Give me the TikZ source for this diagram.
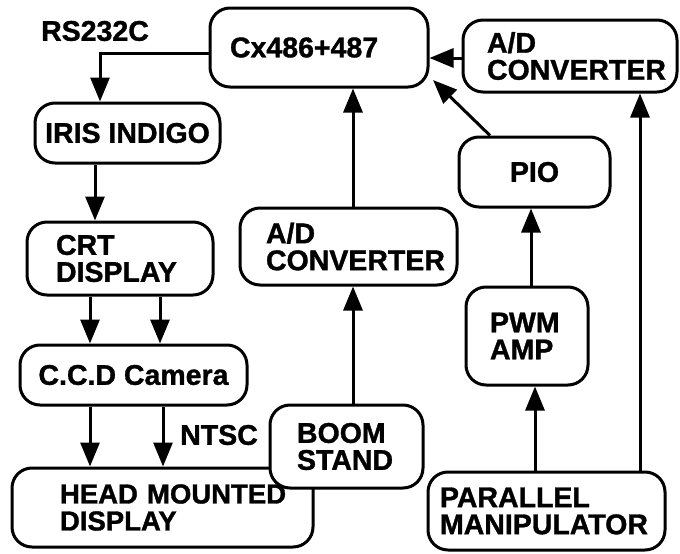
\documentclass[tikz,border=0pt]{standalone}
\usepackage{fontspec}
\setmainfont{Liberation Sans}[BoldFeatures={FakeBold=1.2}]
\usetikzlibrary{arrows.meta}
\begin{document}
\begin{tikzpicture}[x=1pt,y=-1pt,
  box/.style={draw, line width=3pt, rounded corners=20pt, fill=white, inner ysep=0pt,
    font=\fontsize{28.5}{27}\selectfont\bfseries, align=left},
  cbox/.style={box, align=center},
  arr/.style={line width=3pt, -{Triangle[length=24pt,width=19pt]}},
  lbl/.style={font=\fontsize{28.5}{27}\selectfont\bfseries, inner sep=0pt}]
\useasboundingbox (0,0) rectangle (680,554);
% nodes
\node[box, minimum height=79pt, text width=198pt, inner xsep=10pt] (cx) at (319,47.5) {\hspace*{10pt}Cx486+487};
\node[box, minimum height=72pt, text width=194pt, inner xsep=10pt] (adtop) at (570,56) {\hspace*{14pt}A/D\\\hspace*{14pt}CONVERTER};
\node[cbox, minimum height=70pt, minimum width=151pt] (pio) at (534.5,172) {PIO};
\node[box, minimum height=98pt, text width=102pt, inner xsep=10pt] (pwm) at (527,336) {\hspace*{14pt}PWM\\\hspace*{14pt}AMP};
\node[box, minimum height=78pt, text width=225pt, inner xsep=6pt] (pm) at (546.5,511) {\hspace*{6pt}PARALLEL\\\hspace*{6pt}MANIPULATOR};
\node[box, minimum height=77pt, text width=197pt, inner xsep=10pt] (admid) at (348.5,246.5) {\hspace*{16pt}A/D\\\hspace*{16pt}CONVERTER};
\node[box, minimum height=79pt, text width=281pt, inner xsep=10pt, font=\fontsize{27.5}{27}\selectfont\bfseries] (hmd) at (162.5,507.5) {\hspace*{38pt}HEAD MOUNTED\\\hspace*{38pt}DISPLAY};
\node[box, minimum height=83pt, text width=133pt, inner xsep=10pt] (boom) at (346.5,446.5) {\hspace*{17pt}BOOM\\\hspace*{17pt}STAND};
\node[cbox, minimum height=60pt, minimum width=227pt] (ccd) at (133.5,375) {C.C.D Camera};
\node[box, minimum height=73pt, text width=166pt, inner xsep=10pt] (crt) at (120,258.5) {\hspace*{19pt}CRT\\\hspace*{19pt}DISPLAY};
\node[cbox, minimum height=60pt, minimum width=185pt] (iris) at (127.5,133) {IRIS INDIGO};
% labels
\node[lbl] (rs) at (95,31) {RS232C};
\node[lbl] (ntsc) at (219,435) {NTSC};
\coordinate (cxin) at (433,80);
% connectors
\draw[arr] (cx.west |- 0,53) -| (iris.north -| 100,0);
\draw[arr] (iris.south -| 95,0) -- (crt.north -| 95,0);
\draw[arr] (crt.south -| 90,0) -- (ccd.north -| 90,0);
\draw[arr] (crt.south -| 160,0) -- (ccd.north -| 160,0);
\draw[arr] (ccd.south -| 90,0) -- (hmd.north -| 90,0);
\draw[arr] (ccd.south -| 163,0) -- (hmd.north -| 163,0);
\draw[arr] (boom.north -| 353,0) -- (admid.south -| 353,0);
\draw[arr] (admid.north -| 353,0) -- (cx.south -| 353,0);
\draw[arr] (adtop.west |- 0,58) -- (cx.east |- 0,58);
\draw[arr] (pio.north -| 490,0) -- (cxin);
\draw[arr] (pwm.north -| 531,0) -- (pio.south -| 531,0);
\draw[arr] (pm.north -| 535,0) -- (pwm.south -| 535,0);
\draw[arr] (pm.north -| 640,0) -- (adtop.south -| 640,0);
\end{tikzpicture}
\end{document}
